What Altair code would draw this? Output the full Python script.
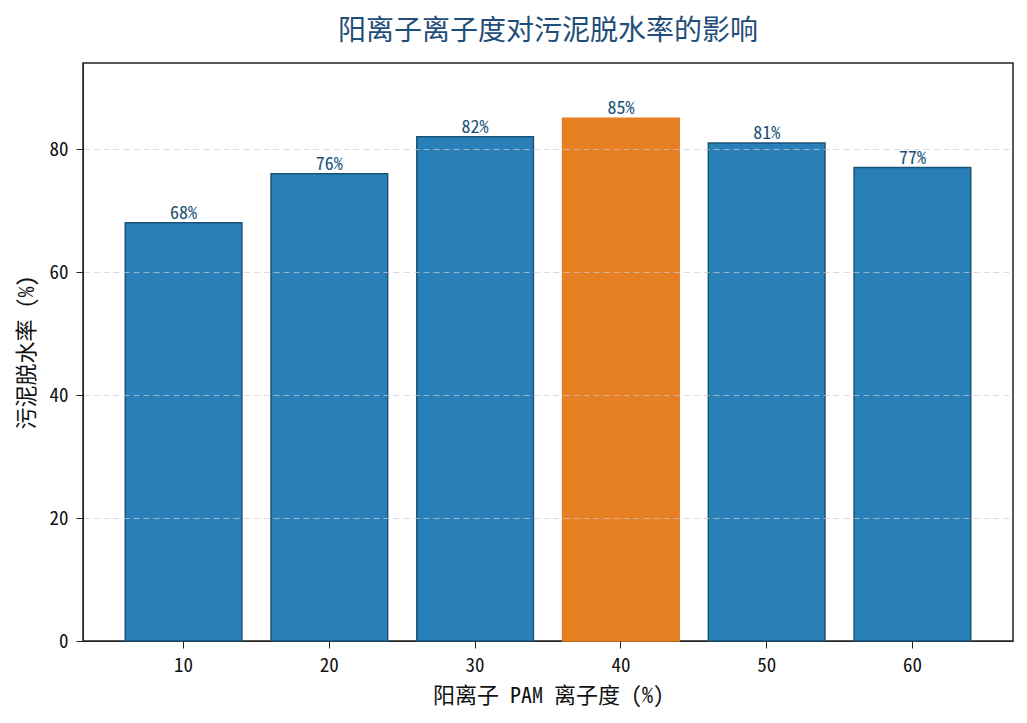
import altair as alt
import pandas as pd

categories = ["10", "20", "30", "40", "50", "60"]
values = [68, 76, 82, 85, 81, 77]
highlight = [False, False, False, True, False, False]

df = pd.DataFrame({
    "cat": categories,
    "val": values,
    "hl": highlight,
    "label": [f"{v}%" for v in values],
})

FONT = "Noto Sans Mono CJK SC, Noto Sans CJK SC"

x = alt.X("cat:N", sort=categories, title="阳离子 PAM 离子度 (%)",
          scale=alt.Scale(paddingInner=0.2, paddingOuter=0.29),
          axis=alt.Axis(labelAngle=0, labelFontSize=19, titleFontSize=22,
                        labelColor="#111", titleColor="#111", tickColor="#222",
                        domainColor="#222", tickSize=7, labelPadding=8,
                        titlePadding=10, labelFont=FONT, titleFont=FONT,
                        titleFontWeight="normal"))
y = alt.Y("val:Q", title="污泥脱水率 (%)",
          scale=alt.Scale(domain=[0, 94], nice=False),
          axis=alt.Axis(values=[0, 20, 40, 60, 80], labelFontSize=19,
                        titleFontSize=22, labelColor="#111", titleColor="#111",
                        tickColor="#222", domainColor="#222", tickSize=7,
                        labelPadding=8, titlePadding=10, labelFont=FONT,
                        titleFont=FONT, titleFontWeight="normal",
                        grid=True, gridDash=[6, 4], gridColor="#cccccc",
                        gridOpacity=alt.condition("datum.value == 0", alt.value(0), alt.value(0.7)),
                        zindex=1))

bars = alt.Chart(df).mark_bar(strokeWidth=1.5).encode(
    x=x, y=y,
    color=alt.condition("datum.hl", alt.value("#e67e22"), alt.value("#2980b9")),
    stroke=alt.condition("datum.hl", alt.value("#e67e22"), alt.value("#1a5276")),
)

text = alt.Chart(df).mark_text(dy=-9, fontSize=18, color="#1a5276", font=FONT).encode(
    x=alt.X("cat:N", sort=categories), y="val:Q", text="label:N"
)

chart = alt.layer(bars, text).properties(
    width=930, height=578,
    title=alt.TitleParams("阳离子离子度对污泥脱水率的影响", fontSize=28,
                          color="#1f4e79", font=FONT, fontWeight="normal",
                          anchor="middle", offset=17),
    autosize=alt.AutoSizeParams(type="none"),
    padding={"left": 75, "top": 55, "right": 6, "bottom": 76},
).configure_view(stroke="#222", strokeWidth=1.5)

chart.save("out.html", embed_options={"renderer": "svg", "actions": False})
